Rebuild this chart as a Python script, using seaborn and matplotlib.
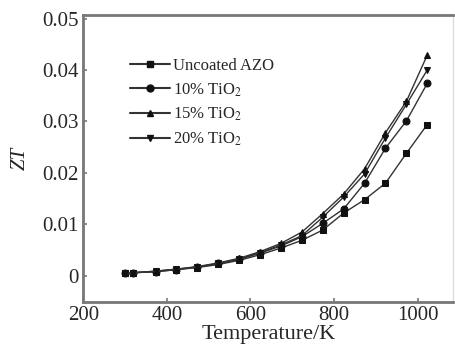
import matplotlib
matplotlib.use("Agg")
import matplotlib.pyplot as plt
import seaborn as sns
import pandas as pd
from matplotlib.lines import Line2D

temperature = [300, 320, 373, 423, 473, 523, 573, 623, 673, 723, 773, 823, 873, 923, 973, 1023]
uncoated = [0.0005, 0.0006, 0.0008, 0.0012, 0.0016, 0.0022, 0.0030, 0.0041, 0.0054, 0.0069, 0.0089, 0.0122, 0.0148, 0.0180, 0.0238, 0.0294]
tio2_10 = [0.0005, 0.0006, 0.0008, 0.0012, 0.0017, 0.0024, 0.0032, 0.0044, 0.0058, 0.0076, 0.0102, 0.0130, 0.0180, 0.0248, 0.0301, 0.0374]
tio2_15 = [0.0005, 0.0006, 0.0009, 0.0013, 0.0018, 0.0025, 0.0034, 0.0047, 0.0063, 0.0085, 0.0121, 0.0159, 0.0208, 0.0278, 0.0339, 0.0429]
tio2_20 = [0.0005, 0.0006, 0.0009, 0.0013, 0.0017, 0.0024, 0.0033, 0.0045, 0.0060, 0.0078, 0.0114, 0.0153, 0.0198, 0.0268, 0.0333, 0.0400]
series_names = ["Uncoated AZO", "10% TiO$_2$", "15% TiO$_2$", "20% TiO$_2$"]
x_ticks = [200, 400, 600, 800, 1000]
y_ticks = [0, 0.01, 0.02, 0.03, 0.04, 0.05]
y_ticklabels = ["0", "0.01", "0.02", "0.03", "0.04", "0.05"]

rows = []
for name, vals in zip(series_names, [uncoated, tio2_10, tio2_15, tio2_20]):
    for t, v in zip(temperature, vals):
        rows.append({"T": t, "ZT": v, "series": name})
df = pd.DataFrame(rows)

sns.set_style("ticks")
plt.rcParams["font.family"] = ["Liberation Serif", "DejaVu Serif"]
plt.rcParams["mathtext.fontset"] = "stix"

fig = plt.figure(figsize=(4.55, 3.56), dpi=100)
ax = fig.add_axes([0.183, 0.153, 0.813, 0.805])

sns.lineplot(data=df, x="T", y="ZT", hue="series", style="series",
             hue_order=series_names, style_order=series_names,
             palette=["#333333"] * 4, markers=["s", "o", "^", "v"],
             dashes=False, markersize=5, linewidth=1.0,
             markeredgecolor="#111111", markerfacecolor="#111111",
             ax=ax, legend=False)

ax.set_xlim(200, 1085)
ax.set_ylim(-0.005, 0.0507)
ax.set_xticks(x_ticks)
ax.set_xticklabels([str(v) for v in x_ticks], fontsize=15)
ax.set_yticks(y_ticks)
ax.set_yticklabels(y_ticklabels, fontsize=15)
ax.tick_params(direction="in", length=3, width=1.2, color="#777777", pad=3)
ax.set_xlabel("Temperature/K", fontsize=16, labelpad=0)
ax.set_ylabel("ZT", fontsize=15, style="italic", labelpad=9)

for side in ["left", "bottom", "top"]:
    ax.spines[side].set_color("#777777")
    ax.spines[side].set_linewidth(2.0)
ax.spines["right"].set_color("#dddddd")
ax.spines["right"].set_linewidth(1.0)

handles = [Line2D([], [], color="#333333", lw=1.5, marker=m, markersize=5,
                  markerfacecolor="#111111", markeredgecolor="#111111")
           for m in ["s", "o", "^", "v"]]
leg = ax.legend(handles, series_names, loc="upper left", bbox_to_anchor=(0.125, 0.851),
                frameon=False, fontsize=12, handlelength=2.4, handletextpad=0.2,
                labelspacing=0.45, borderaxespad=0, borderpad=0)

fig.savefig("out.png", dpi=100)
